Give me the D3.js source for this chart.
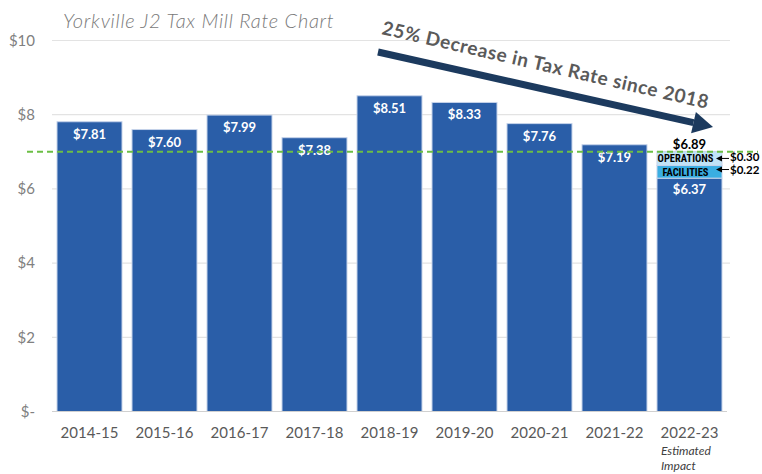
<!DOCTYPE html>
<html>
<head>
<meta charset="utf-8">
<script src="https://cdn.jsdelivr.net/npm/d3@7"></script>
<style>
  body { margin: 0; background: #fff; }
  svg { display: block; font-family: Lato, "Open Sans", sans-serif; }
</style>
</head>
<body>
<div id="chartContainer"></div>
<script>
const width = 762;
const height = 474;

// data
const years = ["2014-15", "2015-16", "2016-17", "2017-18", "2018-19", "2019-20", "2020-21", "2021-22", "2022-23"];
const rates = [7.81, 7.60, 7.99, 7.38, 8.51, 8.33, 7.76, 7.19];
const rateLabels = ["$7.81", "$7.60", "$7.99", "$7.38", "$8.51", "$8.33", "$7.76", "$7.19"];
// 2022-23 stack (base, facilities, operations) as drawn
const stackNames = ["base", "FACILITIES", "OPERATIONS"];
const stackValues = [6.29, 0.34, 0.38];
const stackLabels = ["$6.37", "$0.22", "$0.30"];
const totalLabel = "$6.89";
const targetRate = 7.0;
const yTicks = [0, 2, 4, 6, 8, 10];
const yTickLabels = ["$-", "$2", "$4", "$6", "$8", "$10"];

const svg = d3.select("#chartContainer")
  .append("svg")
  .attr("width", width)
  .attr("height", height);

const x = d3.scaleBand()
  .domain(years)
  .range([52, 727])
  .paddingInner(0.1333)
  .paddingOuter(0.0667);

const y = d3.scaleLinear()
  .domain([0, 10])
  .range([411.5, 40.5]);

// gridlines
svg.append("g")
  .selectAll("line")
  .data(yTicks.filter(d => d > 0))
  .enter()
  .append("line")
  .attr("x1", 52)
  .attr("x2", 730)
  .attr("y1", d => y(d))
  .attr("y2", d => y(d))
  .attr("stroke", "#e3e3e3")
  .attr("stroke-width", 1.2);

// y labels
svg.append("g")
  .selectAll("text")
  .data(yTicks)
  .enter()
  .append("text")
  .attr("x", 35)
  .attr("y", d => y(d))
  .attr("dy", "0.35em")
  .attr("text-anchor", "end")
  .attr("fill", "#808080")
  .style("font-size", "15px")
  .text((d, i) => yTickLabels[i]);

// bars
const barColor = "#2a5ea8";
svg.append("g")
  .selectAll("rect")
  .data(rates)
  .enter()
  .append("rect")
  .attr("x", (d, i) => x(years[i]))
  .attr("y", d => y(d))
  .attr("width", x.bandwidth())
  .attr("height", d => y(0) - y(d))
  .attr("fill", barColor)
  .attr("stroke", "#c5d3ea")
  .attr("stroke-width", 1);

svg.append("g")
  .selectAll("text")
  .data(rates)
  .enter()
  .append("text")
  .attr("x", (d, i) => x(years[i]) + x.bandwidth() / 2)
  .attr("y", d => y(d) + 17)
  .attr("text-anchor", "middle")
  .attr("fill", "#fff")
  .style("font-size", "13px")
  .style("font-weight", "bold")
  .text((d, i) => rateLabels[i]);

// stacked 2022-23 bar
const last = years[years.length - 1];
const stackColors = [barColor, "#3aaee2", "#c0e3f7"];
let cum = 0;
const stack = stackValues.map((v, i) => {
  const s = { name: stackNames[i], v0: cum, v1: cum + v, label: stackLabels[i], color: stackColors[i] };
  cum += v;
  return s;
});

svg.append("g")
  .selectAll("rect")
  .data(stack)
  .enter()
  .append("rect")
  .attr("x", x(last))
  .attr("y", d => y(d.v1))
  .attr("width", x.bandwidth())
  .attr("height", d => y(d.v0) - y(d.v1))
  .attr("fill", d => d.color)
  .attr("stroke", "#c5d3ea")
  .attr("stroke-width", 1);

const cx = x(last) + x.bandwidth() / 2;

svg.append("text")
  .attr("x", cx)
  .attr("y", y(stack[0].v1) + 16)
  .attr("text-anchor", "middle")
  .attr("fill", "#fff")
  .style("font-size", "13px")
  .style("font-weight", "bold")
  .text(stack[0].label);

svg.append("g")
  .selectAll("text")
  .data(stack.slice(1))
  .enter()
  .append("text")
  .attr("x", cx - 4)
  .attr("y", d => (y(d.v0) + y(d.v1)) / 2)
  .attr("dy", "0.36em")
  .attr("text-anchor", "middle")
  .attr("fill", "#000")
  .style("font-size", "10.5px")
  .style("font-weight", "bold")
  .style("font-family", "'Roboto Condensed', 'Liberation Sans Narrow', Roboto, sans-serif")
  .text(d => d.name);

svg.append("text")
  .attr("x", cx)
  .attr("y", y(cum) - 2)
  .attr("text-anchor", "middle")
  .attr("fill", "#000")
  .style("font-size", "13px")
  .style("font-weight", "bold")
  .text(totalLabel);

// side callouts with small arrows
const callY = [y(stack[2].v1) + 7, y(stack[1].v1) + 4];
const textY = [y(stack[2].v1) + 6, y(stack[1].v1) + 4.5];
const callouts = [stack[2], stack[1]];
const side = svg.append("g");
callouts.forEach((d, i) => {
  const yy = callY[i];
  side.append("line")
    .attr("x1", 729).attr("x2", 721)
    .attr("y1", yy).attr("y2", yy)
    .attr("stroke", "#000").attr("stroke-width", 1);
  side.append("path")
    .attr("d", `M716,${yy} L722,${yy - 3} L722,${yy + 3} Z`)
    .attr("fill", "#000");
  side.append("text")
    .attr("x", 730)
    .attr("y", textY[i])
    .attr("dy", "0.33em")
    .attr("fill", "#000")
    .style("font-size", "11.5px")
    .style("font-weight", "bold")
    .text(d.label);
});

// baseline
svg.append("line")
  .attr("x1", 52).attr("x2", 727)
  .attr("y1", y(0)).attr("y2", y(0))
  .attr("stroke", "#d0d0d0")
  .attr("stroke-width", 1.2);

// target line
svg.append("line")
  .attr("x1", 27).attr("x2", 758)
  .attr("y1", y(targetRate)).attr("y2", y(targetRate))
  .attr("stroke", "#6cbf45")
  .attr("stroke-width", 2)
  .attr("stroke-dasharray", "6,4");

// x labels
svg.append("g")
  .selectAll("text")
  .data(years)
  .enter()
  .append("text")
  .attr("x", d => x(d) + x.bandwidth() / 2)
  .attr("y", 438)
  .attr("text-anchor", "middle")
  .attr("fill", "#595959")
  .style("font-size", "15px")
  .text(d => d);

svg.append("text")
  .attr("x", x(last) + 4)
  .attr("y", 455)
  .attr("fill", "#404040")
  .style("font-size", "12px")
  .style("font-style", "italic")
  .text("Estimated");
svg.append("text")
  .attr("x", x(last) + 4)
  .attr("y", 470)
  .attr("fill", "#404040")
  .style("font-size", "12px")
  .style("font-style", "italic")
  .text("Impact");

// title
svg.append("text")
  .attr("x", 63)
  .attr("y", 28)
  .attr("fill", "#7a7a7a")
  .style("font-size", "20px")
  .style("font-style", "italic")
  .style("font-weight", "300")
  .style("letter-spacing", "0.7px")
  .text("Yorkville J2 Tax Mill Rate Chart");

// trend arrow
const ax1 = 378, ay1 = 52, ax2 = 713, ay2 = 127;
const ang = Math.atan2(ay2 - ay1, ax2 - ax1);
const headLen = 20, headW = 11;
const bx = ax2 - headLen * Math.cos(ang), by = ay2 - headLen * Math.sin(ang);
svg.append("line")
  .attr("x1", ax1).attr("y1", ay1)
  .attr("x2", bx).attr("y2", by)
  .attr("stroke", "#1c3a5e")
  .attr("stroke-width", 7);
svg.append("path")
  .attr("d", `M${ax2},${ay2} L${bx + headW * Math.sin(ang)},${by - headW * Math.cos(ang)} L${bx - headW * Math.sin(ang)},${by + headW * Math.cos(ang)} Z`)
  .attr("fill", "#1c3a5e");

svg.append("text")
  .attr("transform", `translate(381,34) rotate(${ang * 180 / Math.PI + 0.3})`)
  .attr("fill", "#5a5a5a")
  .style("font-size", "19px")
  .style("font-weight", "bold")
  .style("letter-spacing", "0.6px")
  .text("25% Decrease in Tax Rate since 2018");
</script>
</body>
</html>
